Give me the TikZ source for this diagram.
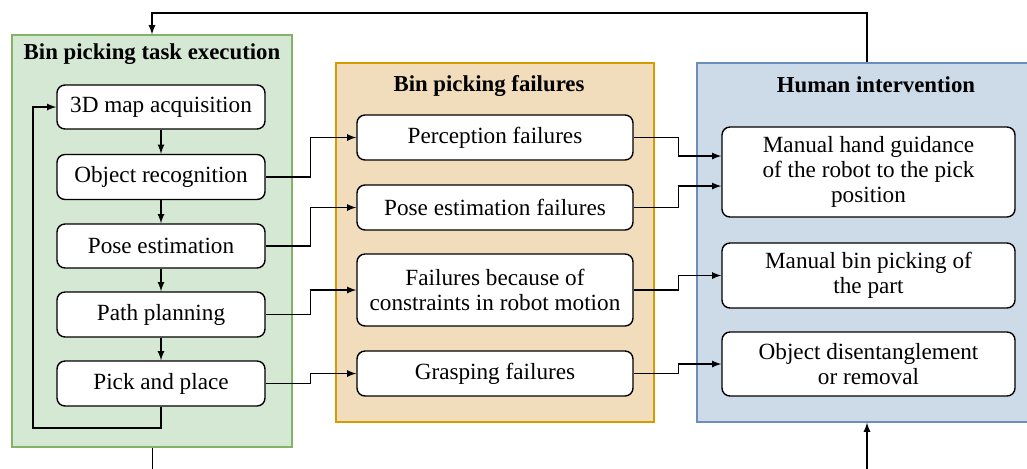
\documentclass[tikz,border=0pt]{standalone}
\usepackage{fontspec}
\setmainfont{Liberation Serif}
\usepackage{xcolor}
\usetikzlibrary{arrows,calc,positioning}
\definecolor{taskfill}{HTML}{D5E8D4}
\definecolor{taskline}{HTML}{82B366}
\definecolor{failfill}{HTML}{F1DCBB}
\definecolor{failline}{HTML}{D79B00}
\definecolor{humanfill}{HTML}{CDDAE8}
\definecolor{humanline}{HTML}{6C8EBF}

\tikzset{
  panel/.style={draw, line width=0.6pt, inner sep=0pt},
  stage/.style={draw, fill=white, rounded corners=4pt, line width=0.7pt, align=center, inner sep=0pt, font=\fontsize{11.6}{12.3}\selectfont},
  link/.style={-latex, line width=0.6pt},
  title/.style={font=\fontsize{11.4}{12}\selectfont\bfseries}
}

\begin{document}
\begin{tikzpicture}[x=0.5pt, y=-0.5pt]
\clip (0,0) rectangle (1027,468);
% panels
\node[panel, fill=taskfill, draw=taskline, minimum width=140pt, minimum height=206pt] (task) at (152,241) {};
\node[panel, fill=failfill, draw=failline, minimum width=159pt, minimum height=179.5pt] (fail) at (495,242.5) {};
\node[panel, fill=humanfill, draw=humanline, minimum width=179pt, minimum height=179.5pt] (human) at (876,242.5) {};
\node[title] (tasktitle) at (152,54) {Bin picking task execution};
\node[title] (failtitle) at (489,86) {Bin picking failures};
\node[title] (humantitle) at (876,85) {Human intervention};

% task steps
\node[stage, minimum width=104pt, minimum height=22pt] (maps) at (161,107) {3D map acquisition};
\node[stage, minimum width=104pt, minimum height=22.5pt] (objrec) at (161,177) {Object recognition};
\node[stage, minimum width=104pt, minimum height=22pt] (pose) at (161,246) {Pose estimation};
\node[stage, minimum width=104pt, minimum height=22.5pt] (path) at (161,314.5) {Path planning};
\node[stage, minimum width=104pt, minimum height=22.5pt] (pick) at (161,383.5) {Pick and place};

% failures
\node[stage, minimum width=138pt, minimum height=22.5pt] (percept) at (495,137.5) {Perception failures};
\node[stage, minimum width=138pt, minimum height=22.5pt] (posefail) at (495,207.5) {Pose estimation failures};
\node[stage, minimum width=138pt, minimum height=36pt] (motion) at (495,290) {Failures because of\\ constraints in robot motion};
\node[stage, minimum width=138pt, minimum height=22.5pt] (grasp) at (495,373.5) {Grasping failures};

% interventions
\node[stage, minimum width=146.5pt, minimum height=45pt] (guide) at (868.5,172) {Manual hand guidance\\ of the robot to the pick\\ position};
\node[stage, minimum width=146.5pt, minimum height=32.5pt] (manual) at (868.5,275.5) {Manual bin picking of\\ the part};
\node[stage, minimum width=146.5pt, minimum height=32pt] (untangle) at (868.5,364) {Object disentanglement\\ or removal};

\coordinate (loopcorner) at (33,428);
\coordinate (backtop) at (867,13);
\coordinate (humanout) at ($(human.north)+(-9,0)$);
\coordinate (humanin) at (867,470);

\draw[link] (maps) -- (objrec);
\draw[link] (objrec) -- (pose);
\draw[link] (pose) -- (path);
\draw[link] (path) -- (pick);
\draw[link] (pick.south) |- (loopcorner) |- (maps.west);

\draw[link] (objrec.east) -- ++(45,0) |- (percept.west);
\draw[link] (pose.east) -- ++(45,0) |- (posefail.west);
\draw[link] (path.east) -- ++(45,0) |- (motion.west);
\draw[link] (pick.east) -- ++(45,0) |- (grasp.west);

\draw[link] (percept.east) -- ++(45,0) |- ($(guide.west)+(0,-16)$);
\draw[link] (posefail.east) -- ++(45,0) |- ($(guide.west)+(0,14)$);
\draw[link] (motion.east) -- ++(45,0) |- (manual.west);
\draw[link] (grasp.east) -- ++(45,0) |- (untangle.west);

\draw[link] (humanout) |- (backtop) -| (task.north);
\draw (task.south) -- ++(0,25);
\draw[link] (humanin) -- (humanin |- human.south);
\end{tikzpicture}
\end{document}
